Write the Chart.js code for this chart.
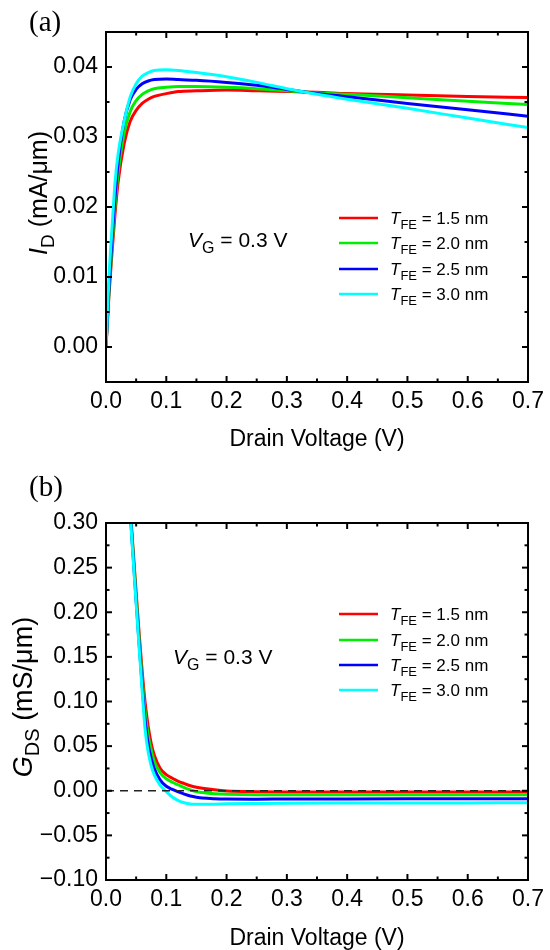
<!DOCTYPE html>
<html>
<head>
<meta charset="utf-8">
<script src="https://cdn.jsdelivr.net/npm/chart.js@4.4.1/dist/chart.umd.min.js"></script>
<style>
  body { margin: 0; background: #fff; }
  canvas { position: absolute; left: 0; }
</style>
</head>
<body>
<canvas id="chartA" width="550" height="470" style="top:0"></canvas>
<canvas id="chartB" width="550" height="480" style="top:470px"></canvas>
<script>
// ---- data ----
const thickness = ["1.5", "2.0", "2.5", "3.0"];
const colors = ["#ff0000", "#00ee00", "#0000ff", "#00ffff"];

// (a) drain current vs drain voltage
const vdA = [0, 0.005, 0.01, 0.015, 0.02, 0.03, 0.04, 0.05, 0.06, 0.07, 0.08, 0.1, 0.12, 0.15, 0.2, 0.25, 0.3, 0.35, 0.4, 0.5, 0.6, 0.7];
const id15 = [0, 0.0075, 0.0135, 0.019, 0.0235, 0.029, 0.0322, 0.0338, 0.0348, 0.0354, 0.0358, 0.0362, 0.0365, 0.0366, 0.0367, 0.0366, 0.0365, 0.0364, 0.0362, 0.0360, 0.0358, 0.03563];
const id20 = [0, 0.008, 0.0145, 0.0203, 0.0248, 0.0305, 0.0336, 0.0352, 0.0361, 0.0366, 0.0369, 0.0371, 0.0372, 0.0372, 0.0371, 0.0369, 0.0366, 0.0363, 0.0361, 0.0356, 0.0351, 0.03463];
const id25 = [0, 0.0085, 0.0155, 0.0215, 0.0262, 0.0322, 0.0353, 0.0368, 0.0376, 0.0380, 0.0382, 0.0383, 0.0382, 0.0381, 0.0378, 0.0374, 0.0368, 0.0362, 0.03575, 0.0348, 0.0339, 0.03296];
const id30 = [0, 0.010, 0.017, 0.0235, 0.0275, 0.0322, 0.0357, 0.0376, 0.0387, 0.0392, 0.0395, 0.0396, 0.0395, 0.0392, 0.0386, 0.0378, 0.0369, 0.0361, 0.0354, 0.0341, 0.0327, 0.03134];

// (b) output conductance vs drain voltage
const vdB = [0.03, 0.035, 0.04, 0.045, 0.05, 0.055, 0.06, 0.065, 0.07, 0.075, 0.08, 0.09, 0.1, 0.11, 0.12, 0.13, 0.14, 0.15, 0.16, 0.18, 0.2, 0.25, 0.3, 0.4, 0.5, 0.6, 0.7];
const gds15 = [0.50, 0.40, 0.322, 0.27, 0.222, 0.176, 0.134, 0.098, 0.072, 0.053, 0.040, 0.025, 0.018, 0.014, 0.0105, 0.008, 0.0056, 0.004, 0.0028, 0.001, -0.0002, -0.001, -0.0013, -0.0015, -0.0015, -0.0015, -0.0015];
const gds20 = [0.50, 0.40, 0.32, 0.267, 0.218, 0.17, 0.125, 0.088, 0.062, 0.046, 0.033, 0.020, 0.0135, 0.0095, 0.0065, 0.0035, 0.001, -0.001, -0.002, -0.0033, -0.004, -0.0045, -0.0045, -0.0045, -0.0045, -0.0045, -0.0045];
const gds25 = [0.50, 0.40, 0.318, 0.263, 0.213, 0.164, 0.118, 0.078, 0.052, 0.036, 0.025, 0.012, 0.005, 0.0015, -0.0012, -0.0037, -0.0058, -0.0072, -0.0082, -0.009, -0.0093, -0.0094, -0.0093, -0.0092, -0.0091, -0.009, -0.009];
const gds30 = [0.50, 0.40, 0.315, 0.26, 0.21, 0.16, 0.112, 0.068, 0.043, 0.028, 0.018, 0.006, -0.001, -0.007, -0.011, -0.0135, -0.0148, -0.0152, -0.0152, -0.015, -0.0147, -0.0143, -0.014, -0.0138, -0.0137, -0.0136, -0.0135];
const zeroX = [0, 0.7];
const zeroY = [0, 0];

// ticks
const xMajor = [0, 0.1, 0.2, 0.3, 0.4, 0.5, 0.6, 0.7];
const xMinor = [0.05, 0.15, 0.25, 0.35, 0.45, 0.55, 0.65];
const idMajor = [0, 0.01, 0.02, 0.03, 0.04];
const idMinor = [0.005, 0.015, 0.025, 0.035];
const gdsMajor = [-0.10, -0.05, 0, 0.05, 0.10, 0.15, 0.20, 0.25, 0.30];
const gdsMinor = [-0.075, -0.025, 0.025, 0.075, 0.125, 0.175, 0.225, 0.275];

const SANS = '"Liberation Sans", Arial, sans-serif';

function toPoints(xs, ys) {
  return xs.map((x, i) => ({ x: x, y: ys[i] }));
}

// text with italic / subscript pieces: [text, style] where style is '', 'i' or 's'
function drawRich(ctx, parts, x, y, size, align) {
  const fontOf = p => (p[1] === 'i' ? 'italic ' : '') + (p[1] === 's' ? Math.round(size * 0.75) : size) + 'px ' + SANS;
  let w = 0;
  parts.forEach(p => { ctx.font = fontOf(p); w += ctx.measureText(p[0]).width; });
  let cx = align === 'center' ? x - w / 2 : x;
  ctx.textAlign = 'left';
  ctx.textBaseline = 'alphabetic';
  parts.forEach(p => {
    ctx.font = fontOf(p);
    ctx.fillText(p[0], cx, y + (p[1] === 's' ? size * 0.27 : 0));
    cx += ctx.measureText(p[0]).width;
  });
}

const framePlugin = {
  id: 'frame',
  afterDraw(chart, args, o) {
    const { ctx, chartArea: a, scales: { x, y } } = chart;
    ctx.save();
    ctx.strokeStyle = '#000';
    ctx.fillStyle = '#000';
    ctx.lineWidth = 2;
    const seg = (x1, y1, x2, y2) => { ctx.beginPath(); ctx.moveTo(x1, y1); ctx.lineTo(x2, y2); ctx.stroke(); };
    const tickX = (v, len) => { const p = x.getPixelForValue(v); seg(p, a.bottom, p, a.bottom - len); seg(p, a.top, p, a.top + len); };
    const tickY = (v, len) => { const p = y.getPixelForValue(v); seg(a.left, p, a.left + len, p); seg(a.right, p, a.right - len, p); };
    xMajor.forEach(v => tickX(v, 6));
    xMinor.forEach(v => tickX(v, 3.5));
    o.yMajor.forEach(v => tickY(v, 6));
    o.yMinor.forEach(v => tickY(v, 3.5));
    ctx.strokeRect(a.left, a.top, a.right - a.left, a.bottom - a.top);

    // panel letter
    ctx.font = '29px "Liberation Serif", "Times New Roman", serif';
    ctx.textAlign = 'left';
    ctx.textBaseline = 'alphabetic';
    ctx.fillText(o.letter, 29, o.letterY);

    // axis titles
    ctx.font = '23px ' + SANS;
    ctx.textAlign = 'center';
    ctx.fillText('Drain Voltage (V)', (a.left + a.right) / 2, o.xTitleY);
    ctx.save();
    ctx.translate(o.yTitleX, o.yTitleMid);
    ctx.rotate(-Math.PI / 2);
    drawRich(ctx, o.yTitle, 0, 0, o.yTitleSize, 'center');
    ctx.restore();

    // gate voltage note
    drawRich(ctx, [['V', 'i'], ['G', 's'], [' = 0.3 V', '']], o.noteX, o.noteY, 21, 'left');

    // legend
    o.legendY.forEach((ly, i) => {
      ctx.strokeStyle = colors[i];
      ctx.lineWidth = 2.5;
      seg(339, ly, 378, ly);
      drawRich(ctx, [['T', 'i'], ['FE', 's'], [' = ' + thickness[i] + ' nm', '']], 390, ly + 6, 17, 'left');
    });
    ctx.restore();
  }
};

function lineSets(xs, series) {
  return series.map((ys, i) => ({
    label: 'T_FE = ' + thickness[i] + ' nm',
    data: toPoints(xs, ys),
    borderColor: colors[i],
    borderWidth: 3,
    pointRadius: 0,
    cubicInterpolationMode: 'monotone',
    order: 4 - i
  }));
}

function makeOptions(yMin, yMax, yTicks, pad, xHeight, fmt, frame) {
  return {
    responsive: false,
    animation: false,
    layout: { padding: { top: pad, right: 17, left: 0, bottom: 0 } },
    plugins: { legend: { display: false }, tooltip: { enabled: false }, frame: frame },
    scales: {
      x: {
        type: 'linear', min: 0, max: 0.7,
        grid: { display: false, drawTicks: false }, border: { display: false },
        afterBuildTicks: s => { s.ticks = xMajor.map(v => ({ value: v })); },
        afterFit: s => { s.height = xHeight; },
        ticks: { padding: 6, color: '#000', font: { family: SANS, size: 23 }, callback: v => v.toFixed(1), maxRotation: 0 }
      },
      y: {
        type: 'linear', min: yMin, max: yMax,
        grid: { display: false, drawTicks: false }, border: { display: false },
        afterBuildTicks: s => { s.ticks = yTicks.map(v => ({ value: v })); },
        afterFit: s => { s.width = 106; },
        ticks: { padding: 8, color: '#000', font: { family: SANS, size: 23 }, callback: fmt }
      }
    }
  };
}

new Chart(document.getElementById('chartA'), {
  type: 'line',
  data: { datasets: lineSets(vdA, [id15, id20, id25, id30]) },
  options: makeOptions(-0.005, 0.045, idMajor, 32, 88, v => v.toFixed(2), {
    letter: '(a)', letterY: 31, xTitleY: 446,
    yMajor: idMajor, yMinor: idMinor,
    yTitle: [['I', 'i'], ['D', 's'], [' (mA/\u03bcm)', '']],
    yTitleX: 47, yTitleMid: 193, yTitleSize: 25,
    noteX: 188, noteY: 247,
    legendY: [218, 243, 269, 294]
  }),
  plugins: [framePlugin]
});

const setsB = lineSets(vdB, [gds15, gds20, gds25, gds30]);
setsB.push({
  label: 'zero',
  data: toPoints(zeroX, zeroY),
  borderColor: '#222',
  borderWidth: 1.5,
  borderDash: [8, 6],
  pointRadius: 0,
  order: 0
});

new Chart(document.getElementById('chartB'), {
  type: 'line',
  data: { datasets: setsB },
  options: makeOptions(-0.10, 0.30, gdsMajor, 53, 70,
    v => (v < 0 ? '\u2212' + Math.abs(v).toFixed(2) : v.toFixed(2)), {
    letter: '(b)', letterY: 26, xTitleY: 475,
    yMajor: gdsMajor, yMinor: gdsMinor,
    yTitle: [['G', 'i'], ['DS', 's'], [' (mS/\u03bcm)', '']],
    yTitleX: 32, yTitleMid: 227, yTitleSize: 27,
    noteX: 173, noteY: 194,
    legendY: [144, 170, 195, 220]
  }),
  plugins: [framePlugin]
});
</script>
</body>
</html>
